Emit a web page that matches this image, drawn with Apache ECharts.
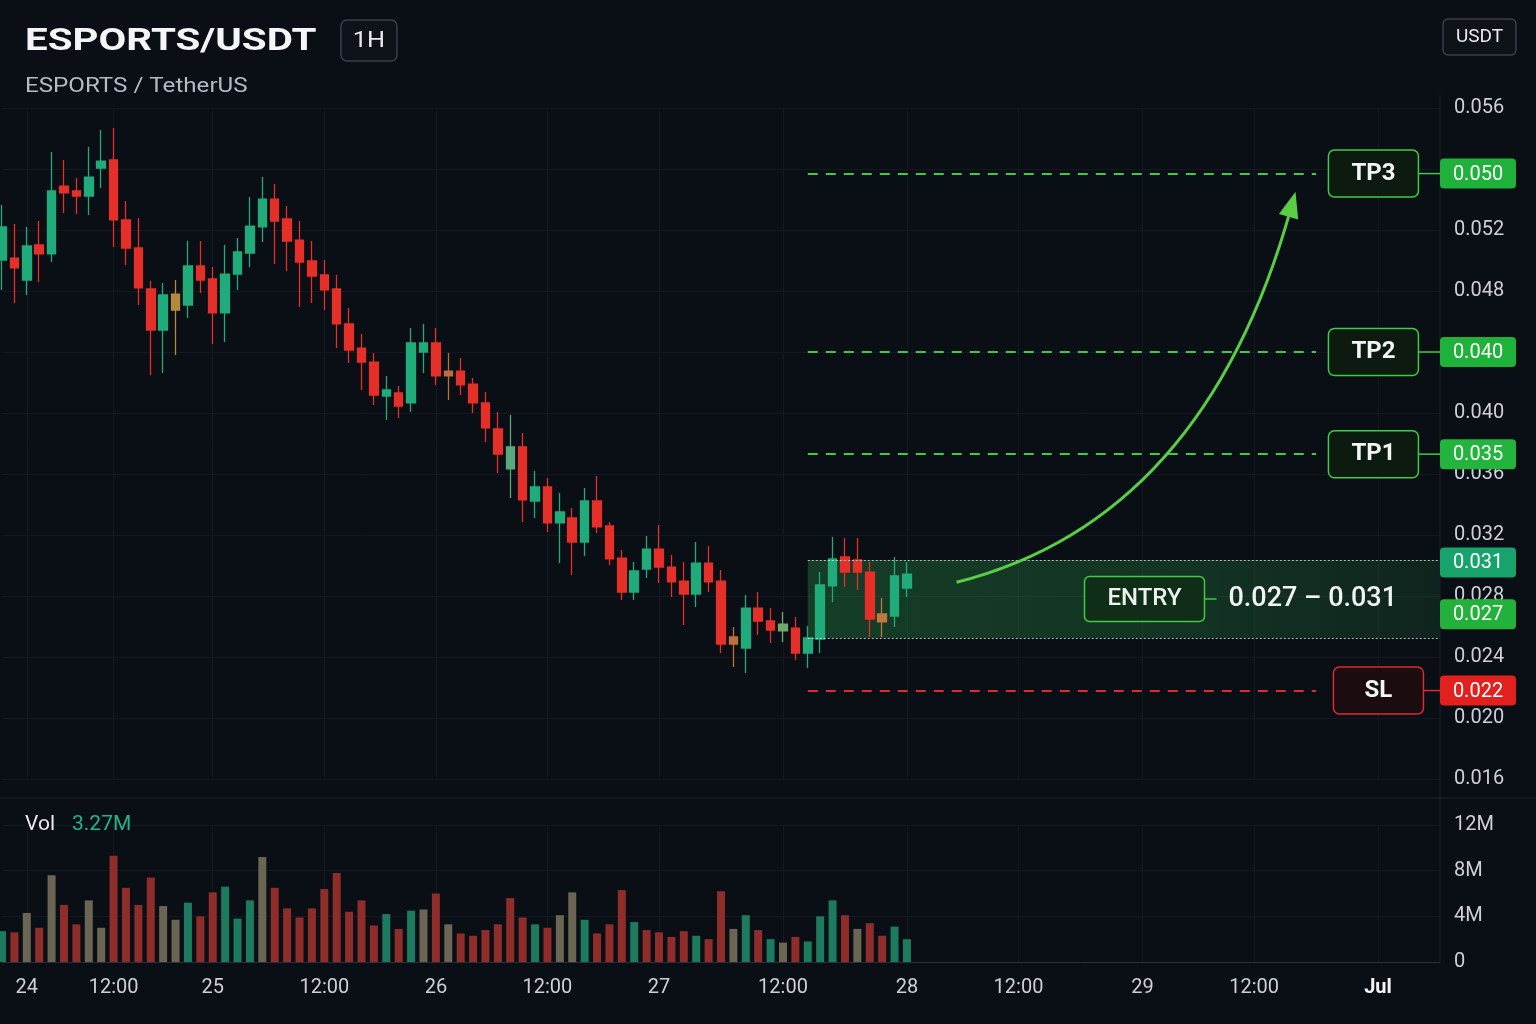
<!DOCTYPE html>
<html>
<head>
<meta charset="utf-8">
<title>ESPORTS/USDT</title>
<script src="https://cdn.jsdelivr.net/npm/echarts@6/dist/echarts.min.js"></script>
<style>
  html, body { margin: 0; padding: 0; background: #0a0e15; }
  #chart { width: 1536px; height: 1024px; }
</style>
</head>
<body>
<div id="chart"></div>
<script>
// hourly candles, [open, close, low, high]
const candles = [
  [0.05003, 0.05220, 0.04807, 0.05364], [0.05016, 0.04951, 0.04721, 0.05239],
  [0.04872, 0.05095, 0.04774, 0.05220], [0.05102, 0.05043, 0.04859, 0.05259],
  [0.05043, 0.05456, 0.04990, 0.05711], [0.05488, 0.05443, 0.05311, 0.05659],
  [0.05456, 0.05423, 0.05305, 0.05541], [0.05423, 0.05547, 0.05298, 0.05744],
  [0.05606, 0.05652, 0.05475, 0.05856], [0.05659, 0.05266, 0.05088, 0.05869],
  [0.05266, 0.05082, 0.04970, 0.05390], [0.05082, 0.04820, 0.04708, 0.05279],
  [0.04813, 0.04544, 0.04249, 0.04865], [0.04544, 0.04774, 0.04262, 0.04852],
  [0.04780, 0.04675, 0.04380, 0.04872], [0.04708, 0.04964, 0.04623, 0.05128],
  [0.04964, 0.04872, 0.04787, 0.05128], [0.04879, 0.04656, 0.04452, 0.04957],
  [0.04656, 0.04911, 0.04466, 0.05102], [0.04911, 0.05056, 0.04807, 0.05147],
  [0.05049, 0.05226, 0.04957, 0.05416], [0.05220, 0.05403, 0.05121, 0.05547],
  [0.05403, 0.05259, 0.04977, 0.05502], [0.05272, 0.05128, 0.04931, 0.05357],
  [0.05134, 0.04990, 0.04695, 0.05259], [0.04997, 0.04898, 0.04721, 0.05128],
  [0.04905, 0.04807, 0.04675, 0.05003], [0.04813, 0.04584, 0.04426, 0.04905],
  [0.04584, 0.04413, 0.04328, 0.04688], [0.04426, 0.04334, 0.04151, 0.04518],
  [0.04334, 0.04118, 0.04052, 0.04393], [0.04111, 0.04151, 0.03954, 0.04243],
  [0.04131, 0.04046, 0.03967, 0.04177], [0.04066, 0.04459, 0.04007, 0.04557],
  [0.04400, 0.04459, 0.04262, 0.04584], [0.04459, 0.04243, 0.04184, 0.04557],
  [0.04275, 0.04243, 0.04085, 0.04393], [0.04275, 0.04184, 0.04118, 0.04361],
  [0.04190, 0.04066, 0.04000, 0.04229], [0.04066, 0.03902, 0.03810, 0.04138],
  [0.03895, 0.03731, 0.03607, 0.04007], [0.03633, 0.03777, 0.03443, 0.03987],
  [0.03777, 0.03430, 0.03285, 0.03869], [0.03423, 0.03515, 0.03312, 0.03620],
  [0.03515, 0.03279, 0.03220, 0.03574], [0.03279, 0.03351, 0.03016, 0.03475],
  [0.03312, 0.03154, 0.02938, 0.03377], [0.03154, 0.03423, 0.03062, 0.03508],
  [0.03423, 0.03253, 0.03213, 0.03587], [0.03259, 0.03043, 0.03003, 0.03285],
  [0.03049, 0.02826, 0.02774, 0.03102], [0.02826, 0.02964, 0.02774, 0.03023],
  [0.02977, 0.03108, 0.02918, 0.03193], [0.03108, 0.02990, 0.02885, 0.03266],
  [0.02990, 0.02892, 0.02793, 0.03069], [0.02898, 0.02813, 0.02610, 0.03023],
  [0.02813, 0.03016, 0.02728, 0.03154], [0.03016, 0.02892, 0.02826, 0.03128],
  [0.02898, 0.02485, 0.02426, 0.02971], [0.02531, 0.02485, 0.02334, 0.02597],
  [0.02459, 0.02721, 0.02295, 0.02807], [0.02721, 0.02636, 0.02544, 0.02826],
  [0.02636, 0.02577, 0.02492, 0.02721], [0.02571, 0.02616, 0.02498, 0.02695],
  [0.02590, 0.02426, 0.02380, 0.02662], [0.02426, 0.02525, 0.02328, 0.02603],
  [0.02518, 0.02872, 0.02426, 0.02957], [0.02866, 0.03043, 0.02761, 0.03187],
  [0.03056, 0.02957, 0.02859, 0.03180], [0.03036, 0.02957, 0.02839, 0.03180],
  [0.02957, 0.02649, 0.02531, 0.03023], [0.02682, 0.02630, 0.02531, 0.02787],
  [0.02669, 0.02931, 0.02597, 0.03056], [0.02852, 0.02944, 0.02793, 0.03023]
];

// volume per candle, millions
const volumes = [
  2.7, 2.6, 4.3, 3.0, 7.6, 5.0, 3.3, 5.4, 3.0, 9.3,
  6.5, 5.0, 7.4, 4.9, 3.7, 5.2, 4.0, 6.1, 6.6, 3.8,
  5.4, 9.2, 6.5, 4.7, 3.9, 4.7, 6.4, 7.8, 4.4, 5.4,
  3.2, 4.2, 2.9, 4.5, 4.6, 6.0, 3.3, 2.5, 2.3, 2.8,
  3.3, 5.6, 3.9, 3.3, 3.0, 4.1, 6.1, 3.7, 2.5, 3.3,
  6.3, 3.5, 2.8, 2.6, 2.2, 2.7, 2.3, 2.0, 6.2, 2.9,
  4.1, 2.8, 2.0, 1.7, 2.2, 1.8, 4.0, 5.4, 4.1, 2.9,
  3.4, 2.3, 3.1, 2.0
];
// bar tint per candle, ten per row: g = green, r = red, o = grey/olive
const volumeSide = [
  'g', 'r', 'o', 'r', 'o', 'r', 'r', 'o', 'o', 'r',
  'r', 'r', 'r', 'o', 'o', 'g', 'r', 'r', 'g', 'g',
  'g', 'o', 'r', 'r', 'r', 'r', 'r', 'r', 'r', 'r',
  'r', 'g', 'r', 'g', 'o', 'r', 'o', 'r', 'r', 'r',
  'r', 'r', 'r', 'g', 'r', 'o', 'o', 'g', 'r', 'r',
  'r', 'g', 'r', 'r', 'r', 'r', 'g', 'r', 'r', 'o',
  'g', 'r', 'g', 'o', 'r', 'g', 'g', 'g', 'r', 'o',
  'r', 'r', 'g', 'g'
];
const lastVolume = '3.27M';

// x axis: one slot per hour, empty slots continue to the right
const slotCount = 117;
const xTickSlots = [2, 9, 17, 26, 35, 44, 53, 63, 73, 82, 92, 101, 111];
const xTickLabels = ['24', '12:00', '25', '12:00', '26', '12:00', '27', '12:00', '28', '12:00', '29', '12:00', 'Jul'];

// price axis 0.016 .. 0.060 step 0.004, labels as printed
const priceTickLabels = ['0.016', '0.020', '0.024', '0.028', '0.032', '0.036', '0.040', '0.044', '0.048', '0.052', '0.056', '0.056'];
const volTickLabels = ['0', '4M', '8M', '12M'];

// trade levels: printed price and where the chart draws the line
const levelNames = ['TP3', 'TP2', 'TP1', 'SL'];
const levelPrices = ['0.050', '0.040', '0.035', '0.022'];
const levelDrawnAt = [0.0557, 0.0440, 0.0373, 0.0218];
const entryZone = [0.02525, 0.03036];
const entryPrices = ['0.027', '0.031'];
const entryTagAt = [0.0268, 0.0302];
const entryText = '0.027 – 0.031';
const arrowPath = [[77, 0.0289], [97, 0.0330], [104, 0.0535]];

const UP = '#20ac7a';
const DOWN = '#e5302a';
const GREEN = '#3fcb46';
const RED = '#dd2b2e';
const GRID = '#131923';
const AXIS_TEXT = '#cdd0d7';
const VOL_COLORS = { g: '#1c7a5e', r: '#8f2d2b', o: '#6b6653' };
const CANDLE_TINTS = { 14: '#b58a3e', 36: '#bd6f3b', 41: '#5aa97c', 59: '#c46e3c', 63: '#72a86b', 71: '#bf7a40' };

const slots = Array.from({ length: slotCount }, (_, i) => String(i));
const isTick = (i) => xTickSlots.indexOf(i) >= 0;

const chart = echarts.init(document.getElementById('chart'));

const option = {
  backgroundColor: '#0a0e15',
  animation: false,
  textStyle: { fontFamily: 'Roboto' },
  grid: [
    { left: 2, right: 96, top: 108, height: 671 },
    { left: 2, right: 96, top: 825, height: 137 }
  ],
  xAxis: [
    {
      type: 'category', gridIndex: 0, data: slots, boundaryGap: false,
      axisLine: { show: false }, axisTick: { show: false }, axisLabel: { show: false },
      splitLine: { show: true, interval: isTick, lineStyle: { color: GRID } }
    },
    {
      type: 'category', gridIndex: 1, data: slots, boundaryGap: false,
      axisLine: { show: true, lineStyle: { color: '#2a303a' } },
      axisTick: { show: false },
      axisLabel: {
        interval: isTick,
        margin: 16,
        color: AXIS_TEXT,
        fontSize: 20,
        formatter: (v) => {
          const t = xTickLabels[xTickSlots.indexOf(Number(v))] || '';
          return t === 'Jul' ? '{b|Jul}' : t;
        },
        rich: { b: { fontWeight: 'bold', color: '#f2f3f6', fontSize: 20 } }
      },
      splitLine: { show: true, interval: isTick, lineStyle: { color: GRID } }
    }
  ],
  yAxis: [
    {
      type: 'value', gridIndex: 0, position: 'right',
      min: 0.016, max: 0.060, interval: 0.004,
      axisLine: { show: false }, axisTick: { show: false },
      axisLabel: {
        margin: 14, color: AXIS_TEXT, fontSize: 20,
        formatter: (v) => priceTickLabels[Math.round((v - 0.016) / 0.004)] || ''
      },
      splitLine: { lineStyle: { color: GRID } }
    },
    {
      type: 'value', gridIndex: 1, position: 'right',
      min: 0, max: 12, interval: 4,
      axisLine: { show: false }, axisTick: { show: false },
      axisLabel: {
        margin: 14, color: AXIS_TEXT, fontSize: 20,
        formatter: (v) => volTickLabels[Math.round(v / 4)]
      },
      splitLine: { lineStyle: { color: GRID } }
    }
  ],
  series: [
    {
      type: 'candlestick',
      xAxisIndex: 0, yAxisIndex: 0,
      barWidth: 9,
      itemStyle: { color: UP, color0: DOWN, borderColor: UP, borderColor0: DOWN, borderWidth: 1.3 },
      data: candles.map((c, i) => {
        const tint = CANDLE_TINTS[i];
        if (!tint) return c;
        return { value: c, itemStyle: { color: tint, color0: tint, borderColor: tint, borderColor0: tint } };
      }),
      markArea: {
        silent: true,
        itemStyle: {
          color: {
            type: 'linear', x: 0, y: 0, x2: 1, y2: 0,
            colorStops: [
              { offset: 0, color: 'rgba(46,170,80,0.30)' },
              { offset: 0.6, color: 'rgba(46,170,80,0.24)' },
              { offset: 1, color: 'rgba(46,170,80,0.14)' }
            ]
          }
        },
        data: [[{ coord: [65, entryZone[1]] }, { coord: [slotCount - 1, entryZone[0]] }]]
      },
      markLine: {
        silent: true,
        symbol: ['none', 'none'],
        label: { show: false },
        emphasis: { disabled: true },
        data: levelDrawnAt.map((v, i) => [
          { coord: [65, v], lineStyle: { color: i === 3 ? RED : GREEN, type: [10, 8], width: 2 } },
          { coord: [106, v] }
        ]).concat(entryZone.map((v) => [
          { coord: [65, v], lineStyle: { color: 'rgba(235,240,235,0.75)', type: [2, 2], width: 1 } },
          { coord: [slotCount - 1, v] }
        ]))
      }
    },
    {
      type: 'bar',
      xAxisIndex: 1, yAxisIndex: 1,
      barWidth: 8,
      data: volumes.map((v, i) => ({ value: v, itemStyle: { color: VOL_COLORS[volumeSide[i]] } }))
    }
  ]
};

chart.setOption(option);

// annotations, placed through the chart's own axes
const X = (s) => chart.convertToPixel({ xAxisIndex: 0 }, s);
const Y = (v) => chart.convertToPixel({ yAxisIndex: 0 }, v);

const text = (x, y, str, font, fill, align, extra) => Object.assign({
  type: 'text', x: x, y: y, z: 100,
  style: { text: str, font: font, fill: fill, align: align, verticalAlign: 'middle', textAlign: align, textVerticalAlign: 'middle' }
}, extra || {});
const rect = (x, y, w, h, r, fill, stroke, lw) => ({
  type: 'rect', z: 99, shape: { x: x, y: y, width: w, height: h, r: r },
  style: { fill: fill, stroke: stroke || null, lineWidth: lw || 0 }
});
const line = (x1, y1, x2, y2, stroke, lw) => ({
  type: 'line', z: 99, shape: { x1: x1, y1: y1, x2: x2, y2: y2 }, style: { stroke: stroke, lineWidth: lw }
});

const right = X(slotCount - 1);
const boxLeft = X(107);
const els = [];

// header
els.push(text(25, 42, 'ESPORTS/USDT', 'bold 31px Roboto', '#f4f5f7', 'left', { scaleX: 1.3 }));
els.push(rect(341, 20, 56, 41, 6, 'rgba(255,255,255,0.02)', '#3a404b', 1.5));
els.push(text(369, 41, '1H', '22px Roboto', '#e8eaee', 'center', { scaleX: 1.15 }));
els.push(text(25, 87, 'ESPORTS / TetherUS', '21px Roboto', '#b6bac3', 'left', { scaleX: 1.15 }));
els.push(rect(1443, 19, 73, 36, 5, 'rgba(255,255,255,0.02)', '#3a404b', 1.5));
els.push(text(1479.5, 37, 'USDT', '19px Roboto', '#e8eaee', 'center'));

// pane separators
els.push(line(0, 798, 1536, 798, '#1c222c', 1));
els.push(line(right, 95, right, 962, '#1a2029', 1));

// volume caption
els.push(text(25, 825, 'Vol', '21px Roboto', '#e8eaee', 'left'));
els.push(text(72, 825, lastVolume, '21px Roboto', '#1fb58a', 'left'));

// TP / SL levels
const levelTagFill = ['#1fb23b', '#1fb23b', '#22b43d', '#e2201d'];
levelNames.forEach((name, i) => {
  const y = Y(levelDrawnAt[i]);
  const col = i === 3 ? RED : GREEN;
  const bx = i === 3 ? boxLeft + 5 : boxLeft;
  els.push(rect(bx, y - 23.5, 90, 47, 6, i === 3 ? '#1a0c0f' : '#0c1a10', col, 1.5));
  els.push(text(bx + 45, y, name, 'bold 24px Roboto', '#f4f6f4', 'center'));
  els.push(line(bx + 90, y, right, y, col, 1.5));
  els.push(rect(right, y - 15, 76, 30, 4, levelTagFill[i]));
  els.push(text(right + 38, y + 1, levelPrices[i], '20px Roboto', '#ffffff', 'center'));
});

// entry box and tags
const yMid = Y((entryZone[0] + entryZone[1]) / 2);
const entryLeft = X(87) + 4;
els.push(rect(entryLeft, yMid - 22.5, 120, 45, 5, 'rgba(16,44,22,0.9)', GREEN, 1.5));
els.push(text(entryLeft + 60, yMid, 'ENTRY', '500 24px Roboto', '#eef2ee', 'center'));
els.push(line(entryLeft + 120, yMid, entryLeft + 132, yMid, GREEN, 1.5));
els.push(text(entryLeft + 144, yMid, entryText, '500 27px Roboto', '#f2f4f2', 'left'));
const entryTagFill = ['#22b23c', '#17a36b'];
entryPrices.forEach((p, k) => {
  const y = Y(entryTagAt[k]);
  els.push(rect(right, y - 15, 76, 30, 4, entryTagFill[k]));
  els.push(text(right + 38, y + 1, p, '20px Roboto', '#ffffff', 'center'));
});

// curved arrow from entry to TP3
const p0 = [X(arrowPath[0][0]), Y(arrowPath[0][1])];
const p1 = [X(arrowPath[1][0]), Y(arrowPath[1][1])];
const p2 = [X(arrowPath[2][0]), Y(arrowPath[2][1])];
els.push({
  type: 'bezierCurve', z: 99,
  shape: { x1: p0[0], y1: p0[1], cpx1: p1[0], cpy1: p1[1], x2: p2[0], y2: p2[1] },
  style: { stroke: '#5acd46', lineWidth: 3, fill: null }
});
const dx = p2[0] - p1[0], dy = p2[1] - p1[1];
const len = Math.sqrt(dx * dx + dy * dy);
const ux = dx / len, uy = dy / len;
const tip = [p2[0] + ux * 16, p2[1] + uy * 16];
const base = [tip[0] - ux * 26, tip[1] - uy * 26];
els.push({
  type: 'polygon', z: 99,
  shape: { points: [tip, [base[0] - uy * 10, base[1] + ux * 10], [base[0] + uy * 10, base[1] - ux * 10]] },
  style: { fill: '#5acd46' }
});

chart.setOption({ graphic: els });
</script>
</body>
</html>
